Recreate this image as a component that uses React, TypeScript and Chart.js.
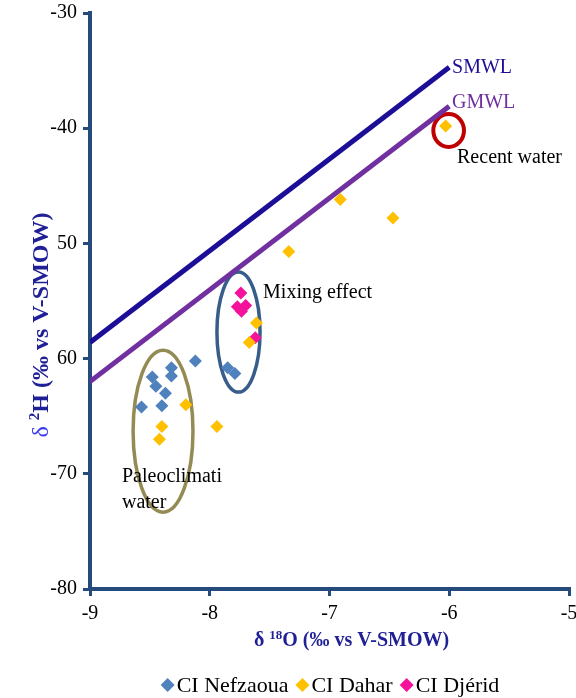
import React, { useEffect, useRef } from 'react';
import { Chart, registerables } from 'chart.js';

Chart.register(...registerables);

// ---- Data ----
const nefzaouaX = [-8.12, -8.32, -8.32, -8.48, -8.45, -8.37, -8.57, -8.4, -7.85, -7.79];
const nefzaouaY = [-60.2, -60.8, -61.5, -61.6, -62.4, -63.0, -64.2, -64.1, -60.8, -61.3];
const daharX = [-6.03, -6.91, -6.47, -7.34, -7.61, -7.67, -8.2, -7.94, -8.4, -8.42];
const daharY = [-39.8, -46.2, -47.8, -50.7, -56.9, -58.6, -64.0, -65.9, -65.9, -67.0];
const djeridX = [-7.74, -7.77, -7.7, -7.735, -7.62];
const djeridY = [-54.3, -55.5, -55.4, -55.9, -58.2];
const smwlX = [-9, -6];
const smwlY = [-58.6, -34.7];
const gmwlX = [-9, -6];
const gmwlY = [-62.0, -38.1];

const seriesNames = ['CI Nefzaoua', 'CI Dahar', 'CI Djérid'];
const lineNames = ['SMWL', 'GMWL'];

const xTickValues = [-9, -8, -7, -6, -5];
const xTickLabels = ['-9', '-8', '-7', '-6', '-5'];
const yTickValues = [-80, -70, -60, -50, -40, -30];
const yTickLabels = ['-80', '-70', '60', '50', '-40', '-30'];

const xTitle = ['δ ', '18', 'O (‰ vs V-SMOW)'];
const yTitle = ['δ ', '2', 'H (‰ vs V-SMOW)'];

// annotations (in data coordinates)
const ellipseCx = [-8.39, -7.76, -6.005];
const ellipseCy = [-66.3, -57.7, -40.2];
const ellipseRx = [0.25, 0.18, 0.128];
const ellipseRy = [7.03, 5.21, 1.43];

const noteTexts = ['SMWL', 'GMWL', 'Recent water', 'Mixing effect', 'Paleoclimati', 'water'];
const noteX = [-5.977, -5.977, -5.935, -7.555, -8.733, -8.733];
const noteY = [-34.77, -37.81, -42.59, -54.31, -70.28, -72.53];

// ---- Styles ----
const SERIF = "'Liberation Serif', 'Times New Roman', serif";
const AXIS_COLOR = '#254A7C';
const TITLE_COLOR = '#1F1F96';
const pointColors = ['#4F81BD', '#FFC000', '#F5129B'];
const lineColors = ['#1C0E96', '#7030A0'];
const ellipseColors = ['#948A54', '#385D8A', '#C00000'];
const ellipseWidths = [3.5, 3.5, 4];
const noteColors = ['#1C0E96', '#7030A0', '#000', '#000', '#000', '#000'];

const toPts = (xs: number[], ys: number[]) => xs.map((x, i) => ({ x, y: ys[i] }));

type Seg = { t: string; size: number; bold: boolean; color: string; rise: number };

function drawSegs(ctx: CanvasRenderingContext2D, segs: Seg[], cx: number, baseY: number) {
  let total = 0;
  const widths = segs.map((s) => {
    ctx.font = `${s.bold ? 'bold ' : ''}${s.size}px ${SERIF}`;
    const w = ctx.measureText(s.t).width;
    total += w;
    return w;
  });
  let x = cx - total / 2;
  ctx.textAlign = 'left';
  ctx.textBaseline = 'alphabetic';
  segs.forEach((s, i) => {
    ctx.font = `${s.bold ? 'bold ' : ''}${s.size}px ${SERIF}`;
    ctx.fillStyle = s.color;
    ctx.fillText(s.t, x, baseY - s.rise);
    x += widths[i];
  });
}

const zeroPad = (s: any) => {
  s.paddingLeft = 0;
  s.paddingRight = 0;
  s.paddingTop = 0;
  s.paddingBottom = 0;
};

const decorPlugin = {
  id: 'decor',
  beforeDatasetsDraw(chart: any) {
    const { ctx, scales } = chart;
    const xs = scales.x;
    const ys = scales.y;
    ctx.save();
    ellipseCx.forEach((cx, i) => {
      const px = xs.getPixelForValue(cx);
      const py = ys.getPixelForValue(ellipseCy[i]);
      const rx = Math.abs(xs.getPixelForValue(cx + ellipseRx[i]) - px);
      const ry = Math.abs(ys.getPixelForValue(ellipseCy[i] + ellipseRy[i]) - py);
      ctx.beginPath();
      ctx.ellipse(px, py, rx, ry, 0, 0, Math.PI * 2);
      ctx.strokeStyle = ellipseColors[i];
      ctx.lineWidth = ellipseWidths[i];
      ctx.stroke();
    });
    ctx.restore();
  },
  afterDraw(chart: any) {
    const { ctx, scales, chartArea } = chart;
    const xs = scales.x;
    const ys = scales.y;
    ctx.save();
    // notes
    ctx.font = `20px ${SERIF}`;
    ctx.textAlign = 'left';
    ctx.textBaseline = 'middle';
    noteTexts.forEach((t, i) => {
      ctx.fillStyle = noteColors[i];
      ctx.fillText(t, xs.getPixelForValue(noteX[i]), ys.getPixelForValue(noteY[i]));
    });
    // x title
    const cxArea = (chartArea.left + chartArea.right) / 2;
    drawSegs(
      ctx,
      [
        { t: xTitle[0], size: 20, bold: true, color: TITLE_COLOR, rise: 0 },
        { t: xTitle[1], size: 13, bold: true, color: TITLE_COLOR, rise: 7 },
        { t: xTitle[2], size: 20, bold: true, color: TITLE_COLOR, rise: 0 },
      ],
      cxArea + 22,
      646
    );
    // y title
    ctx.save();
    ctx.translate(48, 325);
    ctx.rotate(-Math.PI / 2);
    drawSegs(
      ctx,
      [
        { t: yTitle[0], size: 24, bold: false, color: '#3A3AF0', rise: 0 },
        { t: yTitle[1], size: 15, bold: true, color: TITLE_COLOR, rise: 9 },
        { t: yTitle[2], size: 24, bold: true, color: TITLE_COLOR, rise: 0 },
      ],
      0,
      0
    );
    ctx.restore();
    // legend
    const legendY = 685;
    ctx.font = `22px ${SERIF}`;
    const items = chart.data.datasets.filter((d: any) => d.isSeries);
    const markerW = 14;
    const textGap = 2;
    const itemGap = 7;
    let total = 0;
    const tw = items.map((d: any) => ctx.measureText(d.label).width);
    items.forEach((_: any, i: number) => {
      total += markerW + textGap + tw[i] + (i < items.length - 1 ? itemGap : 0);
    });
    let x = 330 - total / 2;
    ctx.textBaseline = 'middle';
    items.forEach((d: any, i: number) => {
      const mx = x + markerW / 2;
      ctx.beginPath();
      ctx.moveTo(mx, legendY - 7);
      ctx.lineTo(mx + 7, legendY);
      ctx.lineTo(mx, legendY + 7);
      ctx.lineTo(mx - 7, legendY);
      ctx.closePath();
      ctx.fillStyle = d.backgroundColor;
      ctx.fill();
      ctx.fillStyle = '#000';
      ctx.fillText(d.label, x + markerW + textGap, legendY + 1);
      x += markerW + textGap + tw[i] + itemGap;
    });
    ctx.restore();
  },
};

export default function App() {
  const canvasRef = useRef<HTMLCanvasElement | null>(null);

  useEffect(() => {
    if (!canvasRef.current) return;
    const pointSet = (i: number, xs: number[], ys: number[]) => ({
      label: seriesNames[i],
      data: toPts(xs, ys),
      isSeries: true,
      pointStyle: 'rectRot',
      pointRadius: 6.5,
      pointHoverRadius: 6.5,
      backgroundColor: pointColors[i],
      borderColor: pointColors[i],
      borderWidth: 0,
      showLine: false,
      order: 0,
    });
    const lineSet = (i: number, xs: number[], ys: number[]) => ({
      label: lineNames[i],
      data: toPts(xs, ys),
      isSeries: false,
      showLine: true,
      pointRadius: 0,
      borderColor: lineColors[i],
      backgroundColor: lineColors[i],
      borderWidth: 5,
      fill: false,
      tension: 0,
      order: 1,
    });
    const tickFont = { family: SERIF, size: 20 };
    const chart = new Chart(canvasRef.current, {
      type: 'scatter',
      data: {
        datasets: [
          pointSet(0, nefzaouaX, nefzaouaY),
          pointSet(1, daharX, daharY),
          pointSet(2, djeridX, djeridY),
          lineSet(0, smwlX, smwlY),
          lineSet(1, gmwlX, gmwlY),
        ] as any,
      },
      options: {
        animation: false,
        responsive: true,
        maintainAspectRatio: false,
        layout: { padding: { left: 0, top: 13, right: 7, bottom: 0 } } as any,
        plugins: { legend: { display: false }, tooltip: { enabled: false } },
        scales: {
          x: {
            type: 'linear',
            position: 'bottom',
            min: -9,
            max: -5,
            afterBuildTicks: (s: any) => {
              s.ticks = xTickValues.map((v) => ({ value: v }));
            },
            afterFit: (s: any) => {
              s.height = 109;
              zeroPad(s);
            },
            ticks: {
              font: tickFont,
              color: '#000',
              padding: 6,
              maxRotation: 0,
              autoSkip: false,
              callback: (v: any) => xTickLabels[xTickValues.indexOf(Number(v))] ?? '',
            },
            grid: { display: true, drawOnChartArea: false, drawTicks: true, tickLength: 7, color: AXIS_COLOR, lineWidth: 3 },
            border: { display: true, color: AXIS_COLOR, width: 4 },
          },
          y: {
            type: 'linear',
            position: 'left',
            min: -80,
            max: -30,
            afterBuildTicks: (s: any) => {
              s.ticks = yTickValues.map((v) => ({ value: v }));
            },
            afterFit: (s: any) => {
              s.width = 90;
              zeroPad(s);
            },
            ticks: {
              font: tickFont,
              color: '#000',
              padding: 6,
              autoSkip: false,
              callback: (v: any) => yTickLabels[yTickValues.indexOf(Number(v))] ?? '',
            },
            grid: { display: true, drawOnChartArea: false, drawTicks: true, tickLength: 7, color: AXIS_COLOR, lineWidth: 3 },
            border: { display: true, color: AXIS_COLOR, width: 4 },
          },
        },
      } as any,
      plugins: [decorPlugin],
    });
    return () => chart.destroy();
  }, []);

  return (
    <div style={{ position: 'fixed', left: 0, top: 0, width: 576, height: 698, background: '#fff' }}>
      <canvas ref={canvasRef} />
    </div>
  );
}
